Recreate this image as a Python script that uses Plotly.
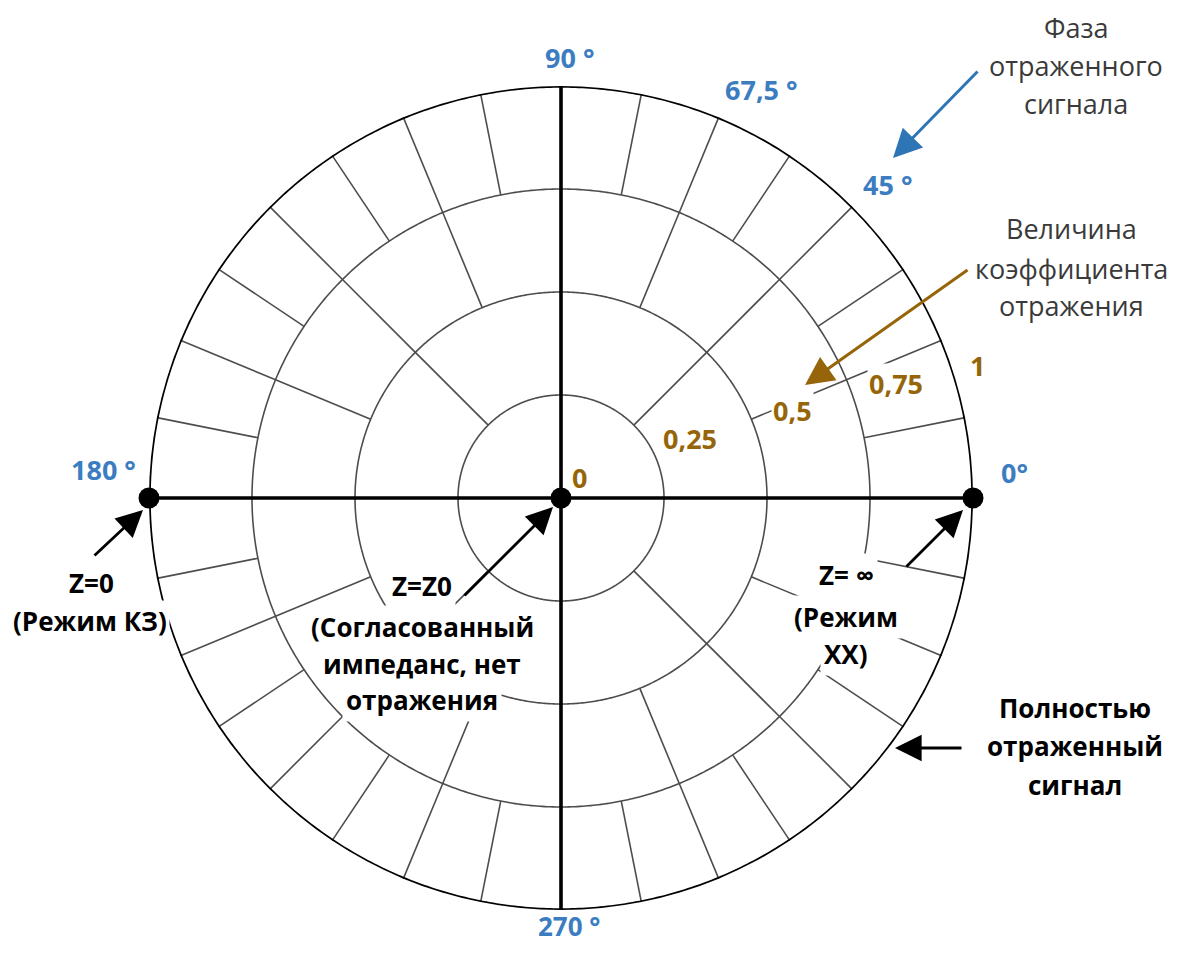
import numpy as np
import plotly.graph_objects as go

# ---------------- data ----------------
ring_values = [0.25, 0.5, 0.75]          # inner magnitude circles
outer_ring = 1.0                          # |Γ| = 1, fully reflected signal
band_inner = [0.25, 0.5, 0.75]            # radial bands that carry spokes
band_outer = [0.5, 0.75, 1.0]
band_step = [45.0, 22.5, 11.25]           # spoke spacing (deg) in each band
axis_angles = [0, 90, 180, 270]
point_r = [0.0, 1.0, 1.0]                 # Z=Z0, Z=inf, Z=0
point_theta = [0.0, 0.0, 180.0]

phase_labels = ["90 °", "67,5 °", "45 °", "0°", "180 °", "270 °"]
magnitude_labels = ["0", "0,25", "0,5", "0,75", "1"]

# ---------------- geometry / style ----------------
OFF = 8                     # page body margin
W, H = 1182 - 2 * OFF, 954 - 2 * OFF
CX, CY, RAD = 561, 498, 412  # in window pixels
FONT = "Open Sans"
BLUE = "#3b7dc0"
BLUE_ARROW = "#2e75b6"
BROWN = "#96650a"
GRID = "#4d4d4d"


def px(x, y):
    return (x - OFF) / W, 1 - (y - OFF) / H


fig = go.Figure()

# inner rings
theta_full = np.linspace(0, 360, 721)
for rv in ring_values:
    fig.add_trace(go.Scatterpolar(r=np.full_like(theta_full, rv), theta=theta_full,
                                  mode="lines", line=dict(color=GRID, width=1.6),
                                  hoverinfo="skip", cliponaxis=False))

# spokes
sr, st = [], []
for ri, ro, step in zip(band_inner, band_outer, band_step):
    for a in np.arange(0, 360, step):
        if any(abs(a - ax) < 1e-6 for ax in axis_angles):
            continue
        sr += [ri, ro, None]
        st += [a, a, None]
fig.add_trace(go.Scatterpolar(r=sr, theta=st, mode="lines",
                              line=dict(color=GRID, width=1.6),
                              hoverinfo="skip", cliponaxis=False))

# outer ring
fig.add_trace(go.Scatterpolar(r=np.full_like(theta_full, outer_ring), theta=theta_full,
                              mode="lines", line=dict(color="black", width=3.6),
                              hoverinfo="skip", cliponaxis=False))

# axes (diameters)
fig.add_trace(go.Scatterpolar(r=[outer_ring, 0, outer_ring, None, outer_ring, 0, outer_ring],
                              theta=[0, 0, 180, None, 90, 90, 270],
                              mode="lines", line=dict(color="black", width=3.6),
                              hoverinfo="skip", cliponaxis=False))

# special points
fig.add_trace(go.Scatterpolar(r=point_r, theta=point_theta, mode="markers",
                              marker=dict(color="black", size=21),
                              hoverinfo="skip", cliponaxis=False))

ann = []


def label(text, x, y, size, color, bold=False, bg=None, pad=1):
    xp, yp = px(x, y)
    ann.append(dict(text=f"<b>{text}</b>" if bold else text, x=xp, y=yp,
                    xref="paper", yref="paper", showarrow=False,
                    xanchor="center", yanchor="middle",
                    font=dict(family=FONT, size=size, color=color),
                    bgcolor=bg, borderpad=pad))


def arrow(tx, ty, hx, hy, color, width=2.8):
    xp, yp = px(hx, hy)
    ann.append(dict(text="", x=xp, y=yp, xref="paper", yref="paper",
                    ax=tx - hx, ay=ty - hy, axref="pixel", ayref="pixel",
                    showarrow=True, arrowhead=2, arrowsize=1.9,
                    arrowwidth=width, arrowcolor=color, standoff=0))


# arrows first (text boxes on top)
arrow(979, 70, 893, 158, BLUE_ARROW, 3)
arrow(969, 269, 805, 385, BROWN, 3)
arrow(93, 557, 143, 510, "black")
arrow(463, 597, 553, 507, "black")
arrow(905, 568, 963, 510, "black")
arrow(963, 748, 895, 748, "black")

# phase labels
phase_pos = [(569, 57), (761, 90), (887, 184), (1014, 472), (103, 469), (569, 926)]
phase_size = [27, 27, 27, 27, 27, 26]
for t, (x, y), s in zip(phase_labels, phase_pos, phase_size):
    label(t, x, y, s, BLUE, bold=True, pad=0)

# magnitude labels
mag_pos = [(579, 477), (690, 438), (792, 410), (896, 383), (977, 365)]
mag_bg = [None, "white", "white", "white", None]
for t, (x, y), bg in zip(magnitude_labels, mag_pos, mag_bg):
    label(t, x, y, 27, BROWN, bold=True, bg=bg, pad=1)

# descriptive texts
for t, y in zip(["Фаза", "отраженного", "сигнала"], [27, 65, 103]):
    label(t, 1076, y, 27, "#3a3a3a")
for t, y in zip(["Величина", "коэффициента", "отражения"], [228, 268, 305]):
    label(t, 1071, y, 27, "#3a3a3a")
for t, y in zip(["Полностью", "отраженный", "сигнал"], [708, 746, 785]):
    label(t, 1075, y, 26, "black", bold=True)

label("Z=0", 91, 583, 26, "black", bold=True, bg="white", pad=2)
label("(Режим КЗ)", 90, 621, 26, "black", bold=True, bg="white", pad=2)

for t, y in zip(["Z=Z0", "(Согласованный", "импеданс, нет", "отражения"],
                [586, 627, 664, 700]):
    label(t, 422, y, 26, "black", bold=True, bg="white", pad=3)

for t, y in zip(["Z= ∞", "(Режим", "XX)"], [575, 617, 654]):
    label(t, 846, y, 26, "black", bold=True, bg="white", pad=3)

fig.update_layout(
    width=W, height=H,
    margin=dict(l=0, r=0, t=0, b=0),
    paper_bgcolor="white",
    showlegend=False,
    polar=dict(
        domain=dict(x=[(CX - RAD - OFF) / W, (CX + RAD - OFF) / W],
                    y=[1 - (CY + RAD - OFF) / H, 1 - (CY - RAD - OFF) / H]),
        bgcolor="white",
        radialaxis=dict(range=[0, 1], visible=False, showgrid=False),
        angularaxis=dict(visible=False, showgrid=False, rotation=0,
                         direction="counterclockwise"),
    ),
    annotations=ann,
)

fig.write_html("out.html")
